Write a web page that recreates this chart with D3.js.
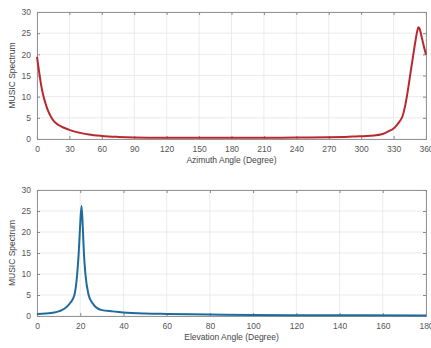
<!DOCTYPE html>
<html>
<head>
<meta charset="utf-8">
<script src="https://cdn.jsdelivr.net/npm/d3@7"></script>
<style>
  body { margin: 0; background: #fff; }
  svg { display: block; font-family: "Liberation Sans", Arial, sans-serif; }
</style>
</head>
<body>
<svg id="chart" width="431" height="348"></svg>
<script>
// azimuth spectrum
const azAngle = [0,2,4,6,8,10,13,16,20,25,30,35,40,48,60,75,90,120,150,180,210,240,270,285,295,305,312,318,322,326,330,333,336,338,340,342,344,346,348,350,352,353,354,355,356,357,358,359,360];
const azValue = [19.4,15.8,12.5,10.1,8.3,6.8,5.2,4.1,3.3,2.65,2.15,1.75,1.45,1.05,0.72,0.5,0.38,0.3,0.28,0.28,0.3,0.33,0.4,0.5,0.6,0.7,0.85,1.05,1.4,1.9,2.5,3.3,4.3,5.2,7.0,9.6,12.8,16.2,19.5,22.8,25.6,26.4,26.1,25.2,24.1,23.0,21.9,20.9,19.9];
// elevation spectrum
const elAngle = [0,4,8,10,11.5,13.8,15.5,17.3,18.6,19.3,19.9,20.6,21.2,21.7,22.4,23.9,25.5,27,30,35,40,50,60,80,100,120,150,180];
const elValue = [0.5,0.6,0.85,1.1,1.4,2.2,3.2,5.0,10,15,21,26.2,21,15,10,5.0,3.2,2.2,1.4,1.1,0.85,0.6,0.5,0.35,0.25,0.2,0.15,0.12];

const azTicks = d3.range(0, 361, 30);
const elTicks = d3.range(0, 181, 20);
const yTicks = [0, 5, 10, 15, 20, 25, 30];

const svg = d3.select('#chart');

function panel(opts){
  const {top, bottom, left, right, xs, ys, xTicks, xMax, color, xLabel} = opts;
  const x = d3.scaleLinear().domain([0, xMax]).range([left, right]);
  const y = d3.scaleLinear().domain([0, 30]).range([bottom, top]);
  const g = svg.append('g');

  // grid
  g.selectAll('.gx').data(xTicks).join('line')
    .attr('x1', d=>x(d)).attr('x2', d=>x(d)).attr('y1', top).attr('y2', bottom)
    .attr('stroke', '#e6e6e6').attr('stroke-width', 0.8);
  g.selectAll('.gy').data(yTicks).join('line')
    .attr('x1', left).attr('x2', right).attr('y1', d=>y(d)).attr('y2', d=>y(d))
    .attr('stroke', '#e6e6e6').attr('stroke-width', 0.8);

  // axes, inward ticks
  const ax = g.append('g').attr('transform', `translate(0,${bottom})`)
    .call(d3.axisBottom(x).tickValues(xTicks).tickSize(-3).tickPadding(7));
  const axTop = g.append('g').attr('transform', `translate(0,${top})`)
    .call(d3.axisTop(x).tickValues(xTicks).tickSize(-3).tickFormat(''));
  const ay = g.append('g').attr('transform', `translate(${left},0)`)
    .call(d3.axisLeft(y).tickValues(yTicks).tickSize(-3).tickPadding(6));
  const ayR = g.append('g').attr('transform', `translate(${right},0)`)
    .call(d3.axisRight(y).tickValues(yTicks).tickSize(-3).tickFormat(''));
  [ax, axTop, ay, ayR].forEach(a => {
    a.select('.domain').attr('stroke', '#8a8a8a').attr('stroke-width', 0.9);
    a.selectAll('.tick line').attr('stroke', '#8a8a8a');
    a.selectAll('text').attr('fill', '#555').attr('font-size', 8.5);
  });

  // curve
  const line = d3.line().x(d=>x(d[0])).y(d=>y(d[1])).curve(d3.curveMonotoneX);
  const pts = xs.map((v,i)=>[v, ys[i]]);
  g.append('path').datum(pts).attr('d', line)
    .attr('fill', 'none').attr('stroke', color).attr('stroke-width', 2)
    .attr('stroke-linejoin', 'round');

  g.append('text').attr('x', (left+right)/2).attr('y', bottom + 24)
    .attr('text-anchor', 'middle').attr('font-size', 8.5).attr('fill', '#444').text(xLabel);
  g.append('text').attr('transform', `translate(15,${(top+bottom)/2}) rotate(-90)`)
    .attr('text-anchor', 'middle').attr('font-size', 8.5).attr('fill', '#444').text('MUSIC Spectrum');
}

panel({top: 12, bottom: 139, left: 37, right: 426, xs: azAngle, ys: azValue,
  xTicks: azTicks, xMax: 360, color: '#b8282c', xLabel: 'Azimuth Angle (Degree)'});
panel({top: 190, bottom: 316, left: 37, right: 426, xs: elAngle, ys: elValue,
  xTicks: elTicks, xMax: 180, color: '#1f6b9c', xLabel: 'Elevation Angle (Degree)'});
</script>
</body>
</html>
